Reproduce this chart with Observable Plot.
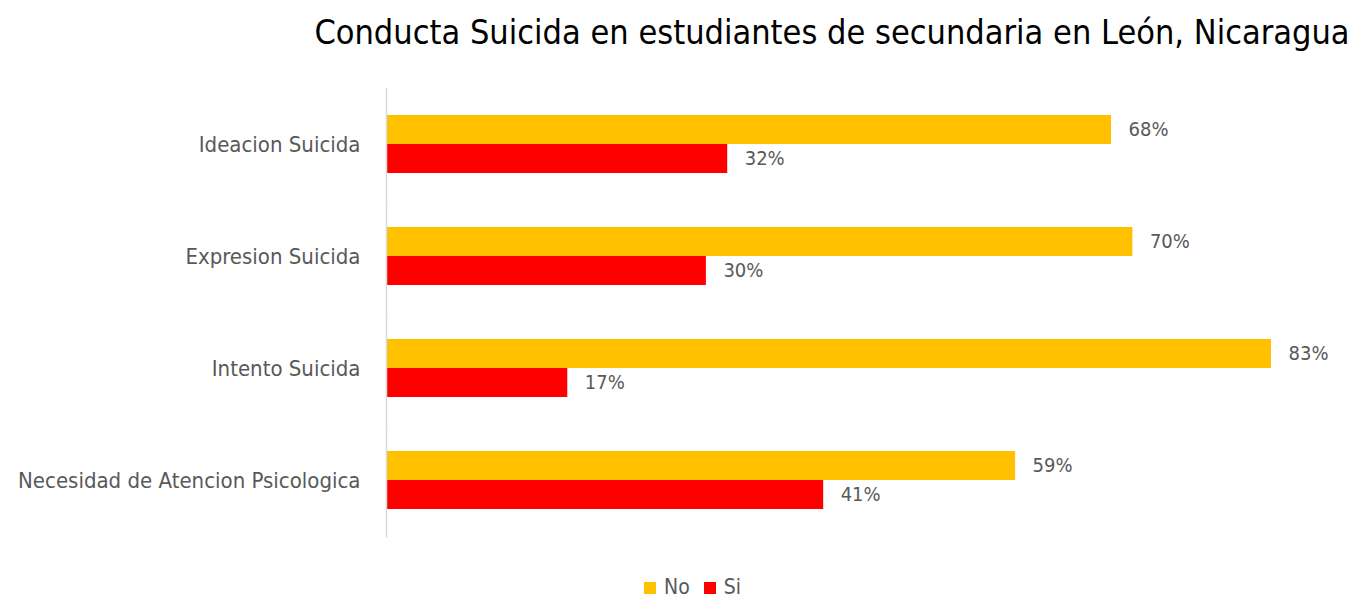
<!DOCTYPE html>
<html>
<head>
<meta charset="utf-8">
<script src="https://cdn.jsdelivr.net/npm/d3@7"></script>
<script src="https://cdn.jsdelivr.net/npm/@observablehq/plot@0.6"></script>
<style>
  html, body { margin: 0; padding: 0; background: #fff; }
  body { width: 1360px; height: 599px; overflow: hidden; position: relative;
         font-family: "Liberation Sans Narrow", "DejaVu Sans Condensed", "Open Sans", sans-serif; }
  #title { position: absolute; left: 0; top: 10px; width: 1360px; box-sizing: border-box;
           padding-left: 304px; text-align: center; font-size: 34px; color: #000; line-height: 44px; white-space: nowrap; }
  #chart { position: absolute; left: 0; top: 74px; }
  #legend { position: absolute; left: 0; top: 573px; width: 1360px; box-sizing: border-box; padding-left: 25px;
            text-align: center; font-size: 21px; color: #595959; line-height: 28px; }
  #legend span.sw { display: inline-block; width: 12px; height: 12px; margin-right: 8px; vertical-align: 0px; }
  #legend span.item { margin: 0 7px; }
</style>
</head>
<body>
<div id="title">Conducta Suicida en estudiantes de secundaria en León, Nicaragua</div>
<div id="chart"></div>
<div id="legend"></div>
<script>
const categories = ["Ideacion Suicida", "Expresion Suicida", "Intento Suicida", "Necesidad de Atencion Psicologica"];
const series = ["No", "Si"];
const noValues = [68, 70, 83, 59];
const siValues = [32, 30, 17, 41];
const colors = ["#FFC000", "#FF0000"];

const data = [];
categories.forEach((c, i) => {
  data.push({category: c, series: "No", value: noValues[i]});
  data.push({category: c, series: "Si", value: siValues[i]});
});

const font = '"Liberation Sans Narrow", "DejaVu Sans Condensed", "Open Sans", sans-serif';

const chart = Plot.plot({
  width: 1360,
  height: 483,
  marginLeft: 386,
  marginRight: 89,
  marginTop: 13,
  marginBottom: 20,
  style: {fontFamily: font, fontSize: "20px", color: "#595959", background: "#fff"},
  x: {domain: [0, d3.max([...noValues, ...siValues])], axis: null},
  y: {domain: series, axis: null, paddingInner: 0, paddingOuter: 0.927},
  fy: {domain: categories, padding: 0, label: null, axis: null},
  color: {domain: series, range: colors},
  marks: [
    Plot.axisFy({anchor: "left", tickSize: 0, tickPadding: 26, fontSize: 22, fill: "#595959", label: null}),
    Plot.barX(data, {x: "value", y: "series", fy: "category", fill: "series"}),
    Plot.text(data, {x: "value", y: "series", fy: "category", text: d => d.value + "%",
                     textAnchor: "start", dx: 17, fill: "#595959", fontSize: 20}),
    Plot.frame({anchor: "left", stroke: "#D9D9D9", strokeOpacity: 1, strokeWidth: 1.5})
  ]
});
document.getElementById("chart").appendChild(chart);

const legend = document.getElementById("legend");
series.forEach((s, i) => {
  const item = document.createElement("span");
  item.className = "item";
  const sw = document.createElement("span");
  sw.className = "sw";
  sw.style.background = colors[i];
  item.appendChild(sw);
  item.appendChild(document.createTextNode(s));
  legend.appendChild(item);
});
</script>
</body>
</html>
